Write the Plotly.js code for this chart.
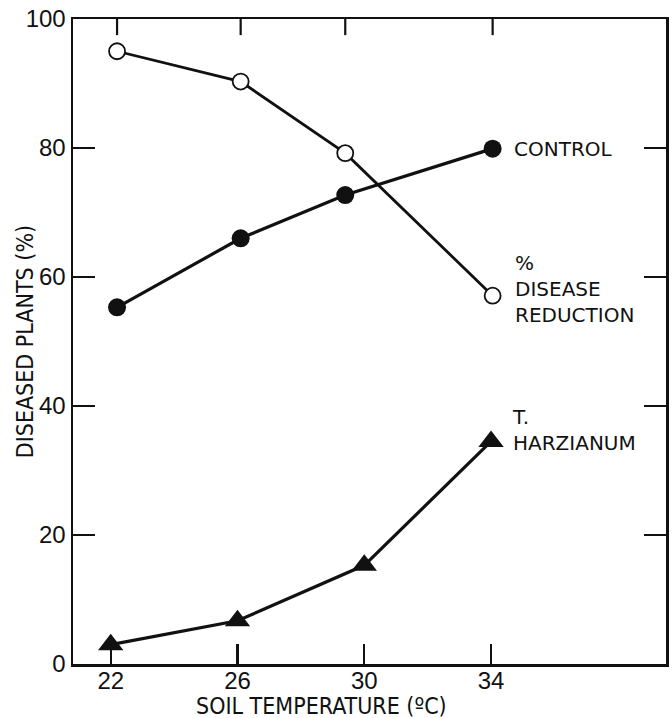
<!DOCTYPE html>
<html>
<head>
<meta charset="utf-8">
<script src="https://cdn.plot.ly/plotly-3.0.1.min.js"></script>
<style>
  html, body { margin: 0; padding: 0; background: #ffffff; }
  #chart { width: 672px; height: 718px; }
</style>
</head>
<body>
<div id="chart"></div>
<script>
// ---- data ----
const temps = [22, 26, 30, 34];                    // soil temperature (°C): bottom ticks, T. harzianum x
const tempTickLabels = ['22', '26', '30', '34'];
const circleTemps = [22.2, 26.1, 29.4, 34.05];     // x of the circle series as drawn (top-edge ticks)
const control = [55.3, 66.0, 72.7, 79.9];          // CONTROL, diseased plants (%)
const diseaseReduction = [95.0, 90.3, 79.2, 57.1]; // % disease reduction
const harzianum = [3.0, 6.7, 15.3, 34.5];          // T. harzianum, diseased plants (%)
const yTicks = [0, 20, 40, 60, 80, 100];
const seriesLabels = ['CONTROL', '%<br>DISEASE<br>REDUCTION', 'T.<br>HARZIANUM'];
const xTitle = 'SOIL TEMPERATURE (ºC)';
const yTitle = 'DISEASED PLANTS (%)';

const xRange = [20.81, 39.52];
const yRange = [0, 100];
const ink = '#111111';
const labelFont = { family: 'DejaVu Sans, Liberation Sans, sans-serif', size: 20, color: ink };
const titleFont = { family: 'DejaVu Sans Condensed, Liberation Sans Narrow, DejaVu Sans, sans-serif', size: 23, color: ink };
const tickFont = { family: 'Liberation Sans, Arial, sans-serif', size: 24, color: ink };

const traces = [
  { x: temps, y: harzianum, mode: 'lines+markers', type: 'scatter',
    line: { color: ink, width: 3.2 },
    marker: { symbol: 'triangle-up', size: 22, color: ink, line: { width: 0 } },
    hoverinfo: 'skip', showlegend: false },
  { x: circleTemps, y: control, mode: 'lines+markers', type: 'scatter',
    line: { color: ink, width: 3.2 },
    marker: { symbol: 'circle', size: 18, color: ink, line: { width: 0 } },
    hoverinfo: 'skip', showlegend: false },
  { x: circleTemps, y: diseaseReduction, mode: 'lines+markers', type: 'scatter',
    line: { color: ink, width: 2.8 },
    marker: { symbol: 'circle', size: 16, color: '#ffffff', line: { color: ink, width: 1.8 } },
    hoverinfo: 'skip', showlegend: false }
];

const lastC = circleTemps.length - 1;
const lastT = temps.length - 1;

// top-edge ticks sit at the temperatures of the circle series
const topTicks = circleTemps.map(function (t) {
  return { type: 'line', xref: 'x', yref: 'y', x0: t, x1: t,
           y0: yRange[1], y1: yRange[1] - 2.5,
           line: { color: ink, width: 2.2 }, layer: 'above' };
});

const layout = {
  width: 672, height: 718,
  margin: { l: 73, r: 6, t: 19, b: 54 },
  paper_bgcolor: '#ffffff', plot_bgcolor: '#ffffff',
  showlegend: false,
  xaxis: {
    range: xRange, showgrid: false, zeroline: false,
    tickmode: 'array', tickvals: temps, ticktext: tempTickLabels,
    ticks: 'inside', ticklen: 20, tickwidth: 2.2, tickcolor: ink,
    showline: true, linecolor: ink, linewidth: 2.5, mirror: true,
    tickfont: tickFont, ticklabelstandoff: -6
  },
  yaxis: {
    range: yRange, showgrid: false, zeroline: false,
    tickmode: 'array', tickvals: yTicks,
    ticks: 'inside', ticklen: 22, tickwidth: 2.2, tickcolor: ink,
    showline: true, linecolor: ink, linewidth: 2.5, mirror: 'ticks',
    tickfont: tickFont
  },
  shapes: topTicks,
  annotations: [
    { x: circleTemps[lastC], y: control[lastC], xref: 'x', yref: 'y',
      text: seriesLabels[0], showarrow: false, xanchor: 'left', yanchor: 'middle',
      xshift: 19, yshift: 0, align: 'left', font: labelFont },
    { x: circleTemps[lastC], y: diseaseReduction[lastC], xref: 'x', yref: 'y',
      text: seriesLabels[1], showarrow: false, xanchor: 'left', yanchor: 'middle',
      xshift: 20, yshift: 7, align: 'left', font: labelFont },
    { x: temps[lastT], y: harzianum[lastT], xref: 'x', yref: 'y',
      text: seriesLabels[2], showarrow: false, xanchor: 'left', yanchor: 'middle',
      xshift: 19, yshift: 11, align: 'left', font: labelFont },
    { x: 0.4196, y: -0.0650, xref: 'paper', yref: 'paper',
      text: xTitle, showarrow: false, xanchor: 'center', yanchor: 'middle', font: titleFont },
    { x: -0.0813, y: 0.5, xref: 'paper', yref: 'paper',
      text: yTitle, showarrow: false, textangle: -90, xanchor: 'center', yanchor: 'middle', font: titleFont }
  ]
};

Plotly.newPlot('chart', traces, layout, { staticPlot: true, displayModeBar: false });
</script>
</body>
</html>
